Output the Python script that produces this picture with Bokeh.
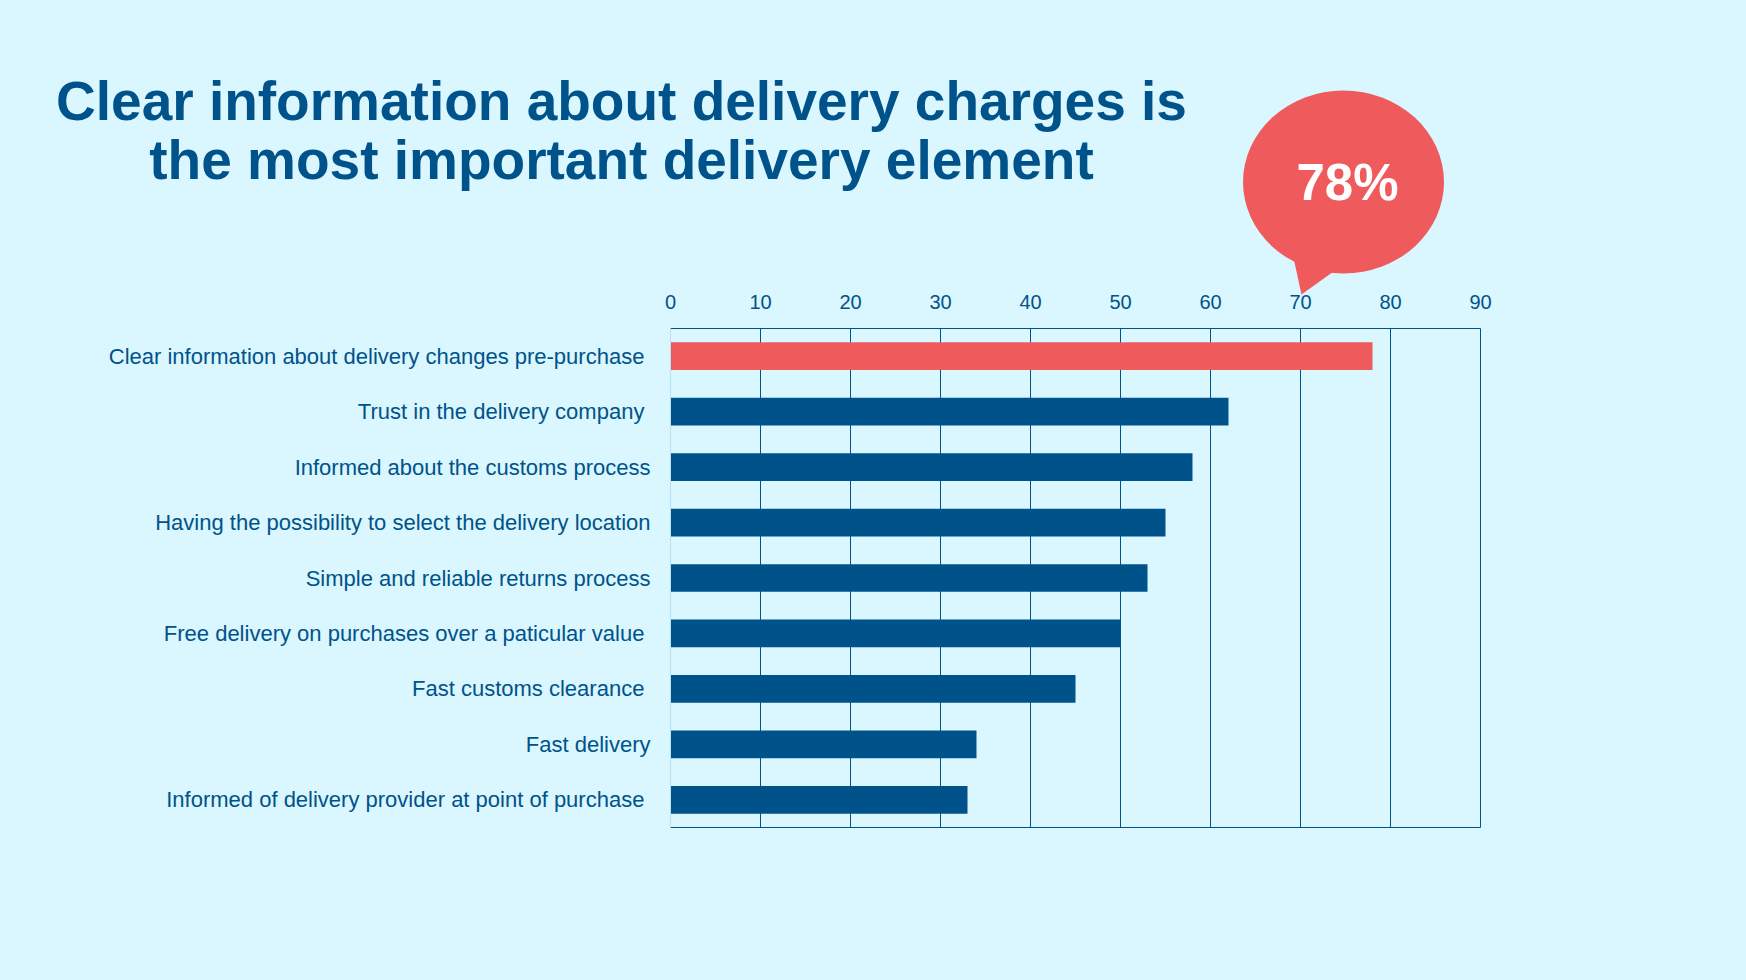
from bokeh.plotting import figure
from bokeh.models import Range1d, LinearAxis, FixedTicker, ColumnDataSource
from bokeh.embed import file_html
from bokeh.resources import INLINE
from bokeh.core.properties import value

# ---------------- data ----------------
categories = [
    "Clear information about delivery changes pre-purchase ",
    "Trust in the delivery company ",
    "Informed about the customs process",
    "Having the possibility to select the delivery location",
    "Simple and reliable returns process",
    "Free delivery on purchases over a paticular value ",
    "Fast customs clearance ",
    "Fast delivery",
    "Informed of delivery provider at point of purchase ",
]
values = [78, 62, 58, 55, 53, 50, 45, 34, 33]
x_ticks = [0, 10, 20, 30, 40, 50, 60, 70, 80, 90]
highlight_index = 0
highlight_label = "78%"
title_lines = [
    "Clear information about delivery charges is",
    "the most important delivery element",
]

# ---------------- style ----------------
BG = "#daf6fe"
BLUE = "#00538a"
RED = "#ef5a5c"
LIGHT = "#b8e2f4"
FONT = "Liberation Sans"

n = len(categories)
pos = list(range(n))
colors = [RED if i == highlight_index else BLUE for i in pos]
src = ColumnDataSource(dict(y=pos, val=values, col=colors))

p = figure(
    width=1730, height=964,
    x_range=Range1d(0, 90),
    y_range=Range1d(start=n - 0.5, end=-0.5),
    x_axis_location="above",
    output_backend="svg", toolbar_location=None,
    min_border_left=670, min_border_right=250,
    min_border_top=328, min_border_bottom=137,
)
p.background_fill_color = BG
p.border_fill_color = BG
p.outline_line_color = None

try:
    from bokeh.models import GlobalInlineStyleSheet
    p.stylesheets = [GlobalInlineStyleSheet(css="html, body { background: %s; }" % BG)]
except Exception:
    pass

p.hbar(y="y", left=0, right="val", height=0.5, fill_color="col", line_color=None, source=src)

# top axis
xa = p.xaxis[0]
xa.ticker = FixedTicker(ticks=x_ticks)
xa.major_tick_line_color = None
xa.minor_tick_line_color = None
xa.major_tick_out = 0
xa.major_tick_in = 0
xa.axis_line_color = BLUE
xa.axis_line_width = 1
xa.major_label_text_font = FONT
xa.major_label_text_font_size = "20px"
xa.major_label_text_color = BLUE
xa.major_label_standoff = 20

# left axis with category labels
ya = p.yaxis[0]
ya.ticker = FixedTicker(ticks=pos)
ya.major_label_overrides = {i: c for i, c in zip(pos, categories)}
ya.major_tick_line_color = None
ya.minor_tick_line_color = None
ya.major_tick_out = 0
ya.major_tick_in = 0
ya.axis_line_color = LIGHT
ya.major_label_text_font = FONT
ya.major_label_text_font_size = "22px"
ya.major_label_text_color = BLUE
ya.major_label_standoff = 20

# grid
p.xgrid.ticker = FixedTicker(ticks=x_ticks)
p.xgrid.grid_line_color = BLUE
p.xgrid.grid_line_width = 1
p.ygrid.grid_line_color = None

# pixel-like ranges for decorations
p.extra_x_ranges = {"px": Range1d(670, 1480)}
p.extra_y_ranges = {"px": Range1d(827, 328)}

p.add_layout(LinearAxis(x_range_name="px", ticker=FixedTicker(ticks=[]),
                        axis_line_color=BLUE, major_tick_line_color=None,
                        minor_tick_line_color=None), "below")
p.add_layout(LinearAxis(y_range_name="px", ticker=FixedTicker(ticks=[]),
                        axis_line_color=BLUE, major_tick_line_color=None,
                        minor_tick_line_color=None), "right")

# speech bubble
r1 = p.ellipse(x=[1343], y=[181.5], width=201, height=183, fill_color=RED, line_color=None,
               x_range_name="px", y_range_name="px")
r1.level = "overlay"
r2 = p.patch(x=[1292.5, 1340, 1301], y=[255, 266, 294], fill_color=RED, line_color=None,
             x_range_name="px", y_range_name="px")
r2.level = "overlay"
r3 = p.text(x=[1347], y=[182], text=[highlight_label], text_align="center", text_baseline="alphabetic",
            text_font=value(FONT), text_font_style="bold", text_font_size="51px", text_color="white",
            x_range_name="px", y_range_name="px")
r3.level = "overlay"

# title
r4 = p.text(x=[621, 621], y=[100.5, 159.5], text=title_lines, text_align="center", text_baseline="alphabetic",
            text_font=value(FONT), text_font_style="bold", text_font_size="55px", text_color=BLUE,
            x_range_name="px", y_range_name="px")
r4.level = "overlay"

open("out.html", "w").write(file_html(p, INLINE))
